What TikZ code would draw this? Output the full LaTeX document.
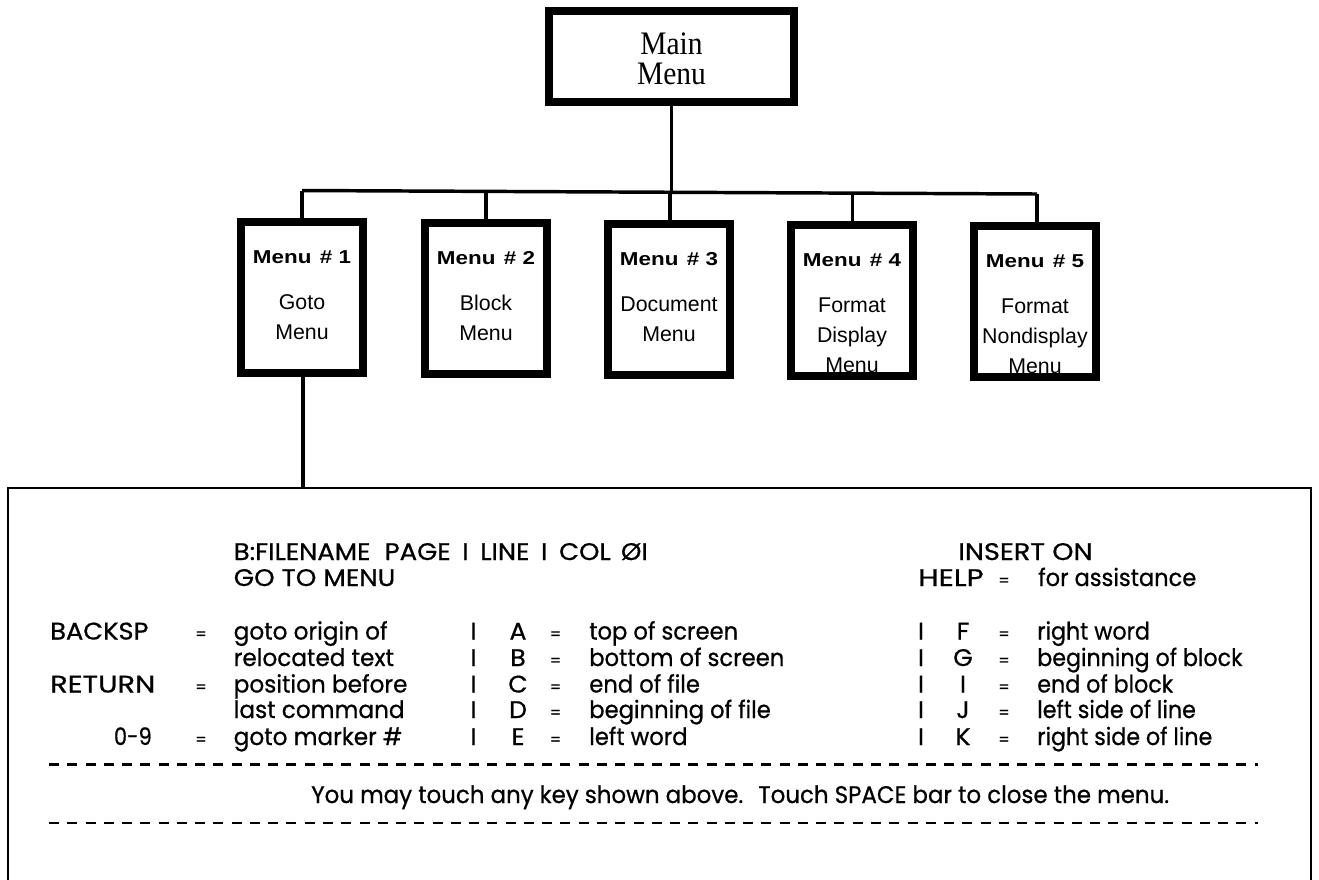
\documentclass[tikz,border=0pt]{standalone}
\usepackage{fontspec}
\setmainfont{Poppins}[RawFeature={embolden=0.7}]
\newfontfamily\helv{Liberation Sans}
\newfontfamily\tms{Liberation Serif}
\newlength{\pxu}\setlength{\pxu}{0.75pt}
\newcommand{\scrfont}{\fontsize{18pt}{21pt}\selectfont}
\newcommand{\menutxt}[2]{\parbox[c][143\pxu][t]{118\pxu}{\centering\helv\fontsize{16pt}{30\pxu}\selectfont
  \rule{0pt}{37.5\pxu}{\fontsize{14pt}{30\pxu}\selectfont\scalebox{1.2}[1]{\textbf{#1}}}\par\vspace{16\pxu}#2\par}}
\tikzset{
  x=0.75pt,y=-0.75pt,
  mainbox/.style={draw=black,line width=8*0.75pt,fill=white,minimum width=245*0.75pt,minimum height=91*0.75pt,inner sep=0pt,outer sep=0.5*8*0.75pt},
  menubox/.style={draw=black,line width=8*0.75pt,fill=white,minimum width=122*0.75pt,minimum height=151*0.75pt,inner sep=0pt,outer sep=0.5*8*0.75pt},
  conn/.style={draw=black,line width=2.6pt},
  thinconn/.style={draw=black,line width=2.3pt},
  screen/.style={draw=black,line width=2pt,outer sep=1pt},
  rowtxt/.style={anchor=base west,inner sep=0pt,font=\scrfont},
  rowmid/.style={anchor=base,inner sep=0pt,font=\scrfont},
  rowend/.style={anchor=base east,inner sep=0pt,font=\scrfont},
  eqtxt/.style={anchor=base,inner sep=0pt,font=\fontsize{12pt}{14pt}\selectfont},
  sep/.style={draw=black,line width=1.7pt,dash pattern=on 7.5pt off 6.2pt}
}
\newcommand{\tx}[5]{\node[rowtxt] (#1) at (#2,#3) {\scalebox{#4}[1]{#5}};}
\newcommand{\mx}[5]{\node[rowmid] (#1) at (#2,#3) {\scalebox{#4}[1]{#5}};}
\newcommand{\qx}[3]{\node[eqtxt] (#1) at (#2,#3) {=};}
\begin{document}
\begin{tikzpicture}
\useasboundingbox (0,0) rectangle (1319,879);
\clip (0,0) rectangle (1319,879);
\fill[white] (0,0) rectangle (1319,879);

% tree
\node[mainbox] (main) at (671.5,56.5) {\parbox{200\pxu}{\vspace*{4\pxu}\centering\tms\fontsize{24.6pt}{30\pxu}\selectfont\scalebox{0.9}[1]{Main}\\\scalebox{0.9}[1]{Menu}}};
\node[menubox] (m1) at (302,297.5) {\menutxt{Menu \hspace{0.1em}\# 1}{Goto\\Menu}};
\node[menubox] (m2) at (486,298.5) {\menutxt{Menu \hspace{0.1em}\# 2}{Block\\Menu}};
\node[menubox] (m3) at (669,299.5) {\menutxt{Menu \hspace{0.1em}\# 3}{Document\\Menu}};
\node[menubox] (m4) at (852,300.5) {\menutxt{Menu \hspace{0.1em}\# 4}{Format\\Display\\Menu}};
\node[menubox] (m5) at (1035,301.5) {\menutxt{Menu \hspace{0.1em}\# 5}{Format\\Nondisplay\\Menu}};

\coordinate (barL) at (302,190.5);
\coordinate (barM) at (671.5,192);
\coordinate (barR) at (1037,194);
\coordinate (b2) at (486,191.5);
\coordinate (b3) at (670,192);
\coordinate (b4) at (852.5,193);
\draw[conn] (barL) -- (barR);
\draw[thinconn] (main.south) -- (barM);
\draw[thinconn] (barL) -- (m1.north -| barL);
\draw[thinconn] (b2) -- (m2.north);
\draw[thinconn] (b3) -- (m3.north -| b3);
\draw[thinconn] (b4) -- (m4.north -| b4);
\draw[thinconn] (barR) -- (m5.north -| barR);

% screen
\node[screen,inner sep=0pt,minimum width=1303*0.75pt,minimum height=460*0.75pt] (scr) at (659.5,718) {};
\coordinate (dn) at (303,377);
\draw[draw=black,line width=3pt] (dn) -- (dn |- scr.north);

\tx{t1}{233.5}{560}{1.08}{B:FILENAME\hspace{0.55em}PAGE\hspace{0.45em}I\hspace{0.45em}LINE\hspace{0.45em}I\hspace{0.45em}COL\hspace{0.4em}\O{}I}
\tx{t2}{233.5}{586}{1.09}{GO TO MENU}
\tx{t3}{958}{560}{1.13}{INSERT ON}
\tx{t4}{918}{586}{1.23}{HELP}
\qx{t5}{1004}{586}
\tx{t6}{1038}{586}{0.94}{for assistance}

\tx{k1}{50}{639.5}{1.07}{BACKSP}
\tx{k2}{50}{692.5}{1.2}{RETURN}
\node[rowend] (k3) at (152,745) {\scalebox{0.87}[1]{0-9}};
\qx{e1}{201}{639.5}
\qx{e2}{201}{692.5}
\qx{e3}{201}{745}
\tx{d1}{233.5}{639.5}{0.965}{goto origin of}
\tx{d2}{233.5}{666}{0.965}{relocated text}
\tx{d3}{233.5}{692.5}{0.965}{position before}
\tx{d4}{233.5}{718}{0.965}{last command}
\tx{d5}{233.5}{745}{0.965}{goto marker \#}

\foreach \n/\y/\l/\d/\lr/\dr in {1/639.5/A/top of screen/F/right word,
  2/666/B/bottom of screen/G/beginning of block,
  3/692.5/C/end of file/I/end of block,
  4/718/D/beginning of file/J/left side of line,
  5/745/E/left word/K/right side of line}{
  \mx{ba\n}{473.5}{\y}{1}{I}
  \mx{la\n}{518}{\y}{1.05}{\l}
  \qx{qa\n}{555.5}{\y}
  \tx{ta\n}{589}{\y}{0.945}{\d}
  \mx{bb\n}{921}{\y}{1}{I}
  \mx{lb\n}{963}{\y}{1.05}{\lr}
  \qx{qb\n}{1004}{\y}
  \tx{tb\n}{1037}{\y}{0.925}{\dr}
}
\coordinate (s1l) at (49,764.5); \coordinate (s1r) at (1258,764.5);
\coordinate (s2l) at (49,822.7); \coordinate (s2r) at (1258,822.7);
\draw[sep] (s1l) -- (s1r);
\draw[sep] (s2l) -- (s2r);
\tx{msg}{311}{803}{0.955}{You may touch any key shown above.\hspace{0.3em} Touch SPACE bar to close the menu.}
\end{tikzpicture}
\end{document}
